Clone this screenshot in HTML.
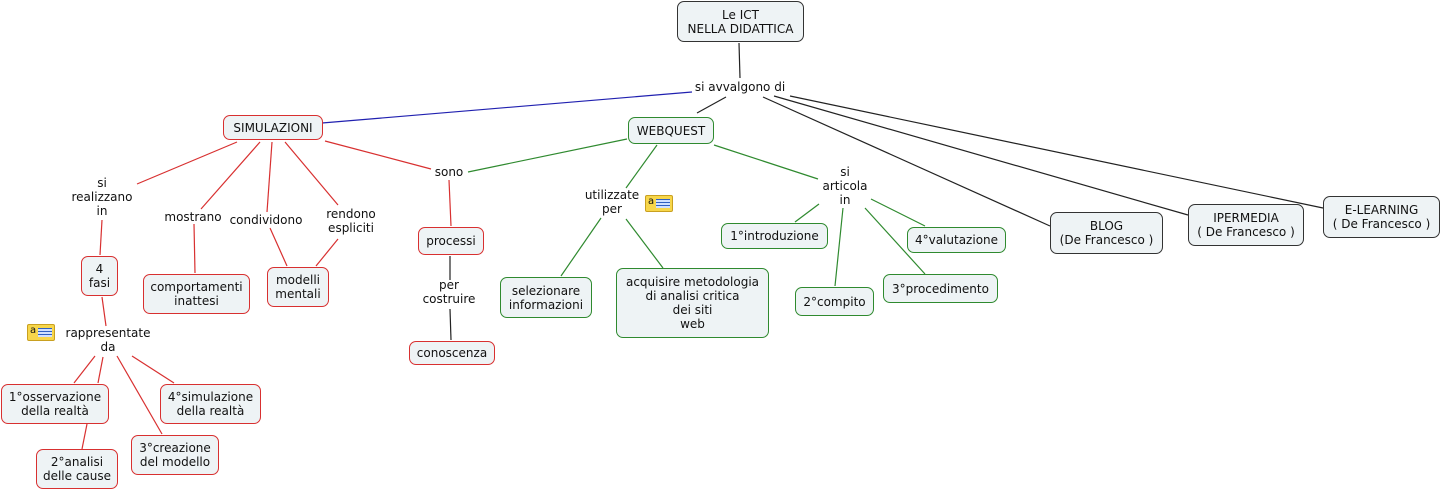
<!DOCTYPE html>
<html><head><meta charset="utf-8"><style>
body{margin:0;width:1442px;height:491px;background:#fff;position:relative;overflow:hidden;font-family:"DejaVu Sans","Liberation Sans",sans-serif;font-size:12px;color:#111}
.b{position:absolute;box-sizing:border-box;background:#eef3f5;border-radius:7px;display:flex;align-items:center;justify-content:center;text-align:center;line-height:14px;white-space:nowrap}
.r{border:1.5px solid #d83030}.g{border:1.5px solid #2f8a2f}.k{border:1.5px solid #333}
.t{position:absolute;text-align:center;line-height:14px;white-space:nowrap;transform:translateX(-50%)}
svg{position:absolute;left:0;top:0}
.ic{position:absolute;width:28px;height:17px;background:#f7d64a;border:1px solid #c9a020;border-radius:2px;font-size:10px;line-height:12px;padding-left:2px;box-sizing:border-box}
.ic i{position:absolute;left:10px;top:3px;width:14px;height:9px;background:repeating-linear-gradient(#3060c0 0 1px,#cfe0ff 1px 3px)}
</style></head><body>
<svg width="1442" height="491">
<g stroke="#222" stroke-width="1.2" fill="none">
<line x1="739" y1="43" x2="740" y2="78"/>
<line x1="726" y1="97" x2="697" y2="113"/>
<line x1="763" y1="97" x2="1050" y2="226"/>
<line x1="774" y1="96" x2="1188" y2="215"/>
<line x1="790" y1="96" x2="1323" y2="208"/>
<line x1="450" y1="256" x2="450" y2="280"/>
<line x1="450" y1="309" x2="451" y2="340"/>
</g>
<line x1="322" y1="123" x2="692" y2="92" stroke="#2020b0" stroke-width="1.2"/>
<g stroke="#d83030" stroke-width="1.2" fill="none">
<line x1="237" y1="142" x2="137" y2="184"/>
<line x1="260" y1="142" x2="201" y2="209"/>
<line x1="272" y1="142" x2="267" y2="212"/>
<line x1="285" y1="142" x2="338" y2="205"/>
<line x1="325" y1="141" x2="431" y2="169"/>
<line x1="102" y1="220" x2="100" y2="255"/>
<line x1="194" y1="224" x2="195" y2="273"/>
<line x1="270" y1="228" x2="287" y2="266"/>
<line x1="338" y1="239" x2="316" y2="266"/>
<line x1="449" y1="180" x2="451" y2="226"/>
<line x1="102" y1="297" x2="106" y2="326"/>
<line x1="95" y1="356" x2="74" y2="383"/>
<line x1="103" y1="357" x2="98" y2="383"/>
<line x1="117" y1="356" x2="162" y2="434"/>
<line x1="132" y1="356" x2="174" y2="383"/>
<line x1="87" y1="424" x2="82" y2="449"/>
</g>
<g stroke="#2f8a2f" stroke-width="1.2" fill="none">
<line x1="468" y1="172" x2="627" y2="139"/>
<line x1="657" y1="145" x2="626" y2="188"/>
<line x1="714" y1="145" x2="818" y2="179"/>
<line x1="601" y1="218" x2="561" y2="276"/>
<line x1="626" y1="219" x2="663" y2="268"/>
<line x1="819" y1="204" x2="795" y2="222"/>
<line x1="843" y1="208" x2="835" y2="286"/>
<line x1="865" y1="208" x2="925" y2="274"/>
<line x1="871" y1="199" x2="925" y2="226"/>
</g>
</svg>
<div class="b k" style="left:677px;top:1px;width:127px;height:41px">Le ICT<br>NELLA DIDATTICA</div>
<div class="t" style="left:740px;top:80px">si avvalgono di</div>
<div class="b r" style="left:223px;top:115px;width:100px;height:25px">SIMULAZIONI</div>
<div class="b g" style="left:628px;top:117px;width:86px;height:27px">WEBQUEST</div>
<div class="b k" style="left:1050px;top:212px;width:113px;height:42px">BLOG<br>(De Francesco )</div>
<div class="b k" style="left:1188px;top:204px;width:116px;height:42px">IPERMEDIA<br>( De Francesco )</div>
<div class="b k" style="left:1323px;top:196px;width:117px;height:42px">E-LEARNING<br>( De Francesco )</div>
<div class="t" style="left:102px;top:176px">si<br>realizzano<br>in</div>
<div class="t" style="left:193px;top:210px">mostrano</div>
<div class="t" style="left:266px;top:213px">condividono</div>
<div class="t" style="left:351px;top:207px">rendono<br>espliciti</div>
<div class="t" style="left:449px;top:165px">sono</div>
<div class="b r" style="left:81px;top:256px;width:37px;height:40px">4<br>fasi</div>
<div class="b r" style="left:143px;top:274px;width:107px;height:40px">comportamenti<br>inattesi</div>
<div class="b r" style="left:267px;top:267px;width:62px;height:40px">modelli<br>mentali</div>
<div class="b r" style="left:418px;top:227px;width:66px;height:28px">processi</div>
<div class="t" style="left:449px;top:278px">per<br>costruire</div>
<div class="b r" style="left:409px;top:341px;width:86px;height:24px">conoscenza</div>
<div class="ic" style="left:27px;top:324px">a<i></i></div>
<div class="t" style="left:108px;top:326px">rappresentate<br>da</div>
<div class="b r" style="left:1px;top:384px;width:108px;height:40px">1°osservazione<br>della realtà</div>
<div class="b r" style="left:160px;top:384px;width:101px;height:40px">4°simulazione<br>della realtà</div>
<div class="b r" style="left:131px;top:435px;width:88px;height:40px">3°creazione<br>del modello</div>
<div class="b r" style="left:36px;top:449px;width:82px;height:40px">2°analisi<br>delle cause</div>
<div class="t" style="left:612px;top:188px">utilizzate<br>per</div>
<div class="ic" style="left:645px;top:195px">a<i></i></div>
<div class="t" style="left:845px;top:165px">si<br>articola<br>in</div>
<div class="b g" style="left:500px;top:277px;width:92px;height:41px">selezionare<br>informazioni</div>
<div class="b g" style="left:616px;top:268px;width:153px;height:70px">acquisire metodologia<br>di analisi critica<br>dei siti<br>web</div>
<div class="b g" style="left:721px;top:223px;width:107px;height:26px">1°introduzione</div>
<div class="b g" style="left:907px;top:227px;width:99px;height:26px">4°valutazione</div>
<div class="b g" style="left:795px;top:287px;width:79px;height:29px">2°compito</div>
<div class="b g" style="left:883px;top:274px;width:115px;height:29px">3°procedimento</div>
</body></html>
